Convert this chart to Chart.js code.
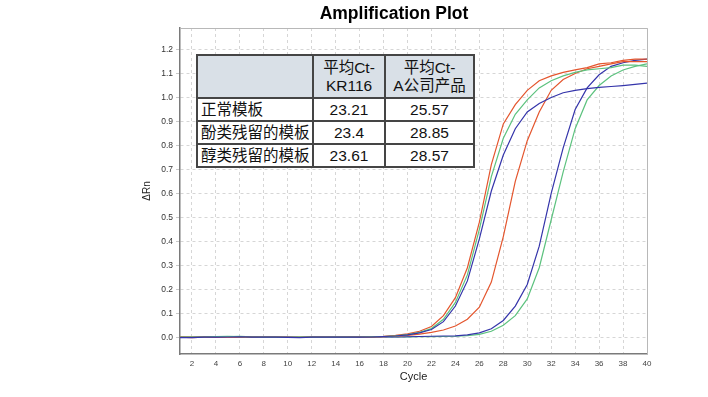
<!DOCTYPE html>
<html>
<head>
<meta charset="utf-8">
<script src="https://cdn.jsdelivr.net/npm/chart.js@4.4.1/dist/chart.umd.min.js"></script>
<style>
  html, body { margin: 0; padding: 0; background: #fff; }
  #wrap { position: relative; width: 708px; height: 397px; }
  #ctTable {
    position: absolute; left: 196px; top: 54px; width: 277px;
    table-layout: fixed;
    border-collapse: collapse; background: #fff;
    font-family: "Liberation Sans", "Noto Sans CJK SC", sans-serif;
    font-size: 15.5px; color: #111;
  }
  #ctTable td { border: 2px solid #454545; padding: 0; height: 21px; line-height: 18px; white-space: nowrap; overflow: hidden; }
  #ctTable tr.head td { background: #d9e0e7; height: 41px; text-align: center; }
  #ctTable td.name { text-align: left; padding-left: 3px; }
  #ctTable td.num { text-align: center; }
</style>
</head>
<body>
<div id="wrap">
  <canvas id="plot" width="708" height="397"></canvas>
  <table id="ctTable"></table>
</div>
<script>
// Data
const cycles = [1,2,3,4,5,6,7,8,9,10,11,12,13,14,15,16,17,18,19,20,21,22,23,24,25,26,27,28,29,30,31,32,33,34,35,36,37,38,39,40];
const xTicks = [2,4,6,8,10,12,14,16,18,20,22,24,26,28,30,32,34,36,38,40];
const yTicks = [0,0.1,0.2,0.3,0.4,0.5,0.6,0.7,0.8,0.9,1.0,1.1,1.2];

// early group (KR116)
const earlyOrange = [0,-0.002,0,0.001,0.002,0.001,0,0,0,-0.001,-0.001,0,0,0,0,0.001,0.002,0.004,0.008,0.014,0.025,0.045,0.09,0.165,0.29,0.48,0.72,0.89,0.97,1.03,1.07,1.09,1.105,1.115,1.125,1.14,1.145,1.155,1.16,1.16];
const earlyGreen = [0,0,0.001,0.003,0.004,0.002,0.001,0,0,-0.001,0,0,0,0,0,0.001,0.002,0.003,0.006,0.011,0.02,0.036,0.075,0.145,0.26,0.45,0.67,0.83,0.93,0.99,1.04,1.07,1.09,1.105,1.115,1.12,1.125,1.135,1.135,1.13];
const earlyBlue = [-0.002,-0.002,0,0,0.001,0.002,0,0,0,-0.001,-0.002,0,0,0,0,0,0.001,0.003,0.005,0.01,0.018,0.032,0.065,0.13,0.235,0.41,0.61,0.76,0.87,0.94,0.975,1.0,1.02,1.03,1.037,1.042,1.046,1.05,1.055,1.06];
// late group (A公司产品)
const lateOrange = [0,0,0,0.001,0.001,0,0,0.001,0,-0.001,-0.001,0,0,-0.001,0,0,0.001,0.002,0.004,0.008,0.013,0.02,0.03,0.047,0.075,0.125,0.23,0.42,0.65,0.82,0.94,1.03,1.075,1.1,1.12,1.13,1.14,1.15,1.15,1.15];
const lateBlue = [0,-0.001,0,0,0.001,0.001,0,0,0,0,-0.001,0,0,0,0,0,0,0.001,0.001,0.002,0.003,0.004,0.005,0.006,0.01,0.018,0.035,0.07,0.13,0.22,0.38,0.6,0.79,0.95,1.04,1.095,1.13,1.145,1.155,1.16];
const lateGreen = [0,0,0,0.001,0.003,0.004,0.002,0.001,0,0,0,0,0,0,0,0,0,0.001,0.001,0.001,0.002,0.002,0.003,0.004,0.007,0.012,0.025,0.05,0.09,0.16,0.29,0.49,0.69,0.87,0.99,1.05,1.09,1.115,1.13,1.14];

// table
const colHeads = [['平均Ct-', 'KR116'], ['平均Ct-', 'A公司产品']];
const rowNames = ['正常模板', '酚类残留的模板', '醇类残留的模板'];
const ctKR116 = ['23.21', '23.4', '23.61'];
const ctCompanyA = ['25.57', '28.85', '28.57'];

const orange = '#e4552d';
const green = '#5cc27e';
const blue = '#3434aa';

// build table
let html = '<colgroup><col style="width:116px"><col style="width:72px"><col style="width:89px"></colgroup>';
html += '<tr class="head"><td></td>';
html += '<td>' + colHeads[0].join('<br>') + '</td>';
html += '<td>' + colHeads[1].join('<br>') + '</td></tr>';
for (let i = 0; i < rowNames.length; i++) {
  html += '<tr><td class="name">' + rowNames[i] + '</td><td class="num">' + ctKR116[i] +
    '</td><td class="num">' + ctCompanyA[i] + '</td></tr>';
}
document.getElementById('ctTable').innerHTML = html;

function line(data, color) {
  return {
    data: data,
    borderColor: color,
    borderWidth: 1.2,
    pointRadius: 0,
    tension: 0,
    fill: false,
  };
}

// light frame on top / right of plot
const frame = {
  id: 'frame',
  afterDraw(chart) {
    const a = chart.chartArea;
    const ctx = chart.ctx;
    ctx.save();
    ctx.strokeStyle = '#b8b8b8';
    ctx.lineWidth = 1;
    ctx.beginPath();
    ctx.moveTo(a.left, a.top + 0.5);
    ctx.lineTo(a.right + 0.5, a.top + 0.5);
    ctx.lineTo(a.right + 0.5, a.bottom);
    ctx.stroke();
    ctx.restore();
  },
};

new Chart(document.getElementById('plot'), {
  type: 'line',
  data: {
    labels: cycles,
    datasets: [
      line(earlyBlue, blue),
      line(earlyGreen, green),
      line(earlyOrange, orange),
      line(lateOrange, orange),
      line(lateBlue, blue),
      line(lateGreen, green),
    ],
  },
  options: {
    responsive: false,
    animation: false,
    events: [],
    layout: { padding: { left: 141, right: 61, top: 0, bottom: 13 } },
    plugins: {
      legend: { display: false },
      tooltip: { enabled: false },
      title: {
        display: true,
        text: 'Amplification Plot',
        color: '#000',
        font: { family: 'Liberation Sans', size: 17.5, weight: 'bold' },
        padding: { top: 4, bottom: 3 },
      },
    },
    scales: {
      x: {
        type: 'linear',
        min: 1,
        max: 40,
        afterBuildTicks: (s) => { s.ticks = xTicks.map((v) => ({ value: v })); },
        afterFit: (s) => { s.height = 30; },
        border: { color: '#7a7a7a', width: 1.5, dash: [3, 3] },
        grid: { color: '#d6d6d6', tickLength: 0, drawTicks: false },
        ticks: {
          color: '#444',
          padding: 5,
          maxRotation: 0,
          font: { family: 'Liberation Sans', size: 8 },
        },
        title: {
          display: true,
          text: 'Cycle',
          color: '#222',
          padding: 0,
          font: { family: 'Liberation Sans', size: 11 },
        },
      },
      y: {
        min: -0.07,
        max: 1.29,
        afterBuildTicks: (s) => { s.ticks = yTicks.map((v) => ({ value: v })); },
        afterFit: (s) => { s.width = 39; },
        border: { color: '#7a7a7a', width: 1.5, dash: [3, 3] },
        grid: { color: '#d6d6d6', tickLength: 4, tickColor: '#c8c8c8' },
        ticks: {
          color: '#333',
          padding: 3,
          font: { family: 'Liberation Sans', size: 8.5 },
          callback: (v) => v.toFixed(1),
        },
        title: {
          display: true,
          text: 'ΔRn',
          color: '#222',
          padding: 0,
          font: { family: 'Liberation Sans', size: 10 },
        },
      },
    },
  },
  plugins: [frame],
});
</script>
</body>
</html>
